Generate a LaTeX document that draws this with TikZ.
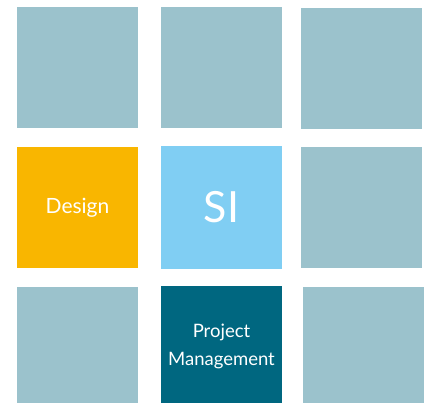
\documentclass[tikz,border=0pt]{standalone}
\usepackage{fontspec}
\setmainfont{Lato}
\definecolor{tilegray}{RGB}{155,194,204}
\definecolor{tileyellow}{RGB}{249,182,0}
\definecolor{tilesky}{RGB}{128,206,243}
\definecolor{tileteal}{RGB}{0,103,128}

\begin{document}
\begin{tikzpicture}[x=1pt, y=-1pt,
    tile/.style={anchor=north west, minimum width=121pt, minimum height=121pt,
        inner sep=0pt, outer sep=0pt, fill=tilegray, text=white, align=center}]
        \useasboundingbox (0, 0) rectangle (428, 403);
        \clip (0, 0) rectangle (428, 403);

        % top row
        \node[tile] (a1) at (17, 7) {};
        \node[tile] (a2) at (161, 7) {};
        \node[tile] (a3) at (301, 8) {};

        % middle row
        \node[tile, fill=tileyellow, font=\fontsize{21}{24}\selectfont] (design) at (17, 147) {Design};
        \node[tile, fill=tilesky, minimum height=123pt, font=\fontsize{43}{48}\selectfont] (si) at (161, 146) {SI};
        \node[tile] (b3) at (301, 147) {};

        % bottom row
        \node[tile] (c1) at (17, 287) {};
        \node[tile, fill=tileteal, font=\fontsize{18.5}{28}\selectfont] (pm) at (161, 286) {Project\\Management};
        \node[tile] (c3) at (303, 287) {};
    \end{tikzpicture}
\end{document}
